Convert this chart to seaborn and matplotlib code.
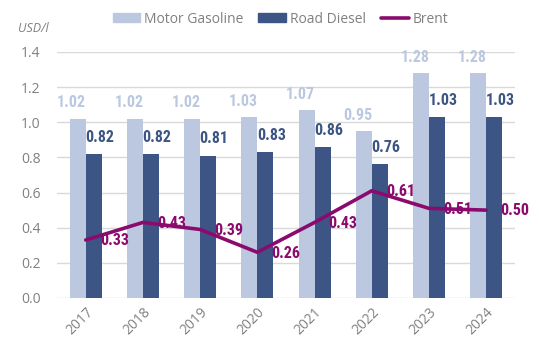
import numpy as np
import pandas as pd
import matplotlib.pyplot as plt
import seaborn as sns
from matplotlib import font_manager
from matplotlib.lines import Line2D
from matplotlib.patches import Patch

#------------ data -----------
years = ['2017', '2018', '2019', '2020', '2021', '2022', '2023', '2024']
gasoline = [1.02, 1.02, 1.02, 1.03, 1.07, 0.95, 1.28, 1.28]
diesel = [0.82, 0.82, 0.81, 0.83, 0.86, 0.76, 1.03, 1.03]
brent = [0.33, 0.43, 0.39, 0.26, 0.43, 0.61, 0.51, 0.50]

c_gas = '#bcc8e0'
c_dsl = '#3d5584'
c_brent = '#8b0a6e'
grey = '#808080'

#------------ fonts: look for a condensed bold face -----------
names = {f.name for f in font_manager.fontManager.ttflist}
lab_font = None
for pref in ['Roboto Condensed', 'Open Sans Condensed', 'Liberation Sans Narrow', 'DejaVu Sans Condensed']:
    if pref in names:
        lab_font = pref
        break
lab_stretch = 'normal'
if lab_font is None:
    lab_font = 'DejaVu Sans'
    if any(f.name == 'DejaVu Sans' and f.stretch == 'condensed' for f in font_manager.fontManager.ttflist):
        lab_stretch = 'condensed'
base_font = 'Open Sans' if 'Open Sans' in names else 'DejaVu Sans'

df = pd.DataFrame({
    'Year': years * 2,
    'Price': gasoline + diesel,
    'Fuel': ['Motor Gasoline'] * len(years) + ['Road Diesel'] * len(years),
})

sns.set_style('white')
plt.rcParams['font.family'] = [base_font, 'DejaVu Sans']
fig = plt.figure(figsize=(5.39, 3.51), dpi=100)
ax = fig.add_axes([0.106, 0.151, 0.849, 0.701])

#------------ bars -----------
sns.barplot(data=df, x='Year', y='Price', hue='Fuel', palette=[c_gas, c_dsl],
            width=0.56, gap=0, linewidth=0, dodge=True, saturation=1, legend=False, ax=ax)

#------------ brent line -----------
x = np.arange(len(years))
sns.lineplot(x=x, y=brent, color=c_brent, linewidth=2.6, ax=ax)

#------------ value labels -----------
lab_kw = dict(ha='center', va='center', fontsize=11.5, fontweight='bold',
              family=[lab_font, 'DejaVu Sans'], fontstretch=lab_stretch)
for i in range(len(years)):
    ax.text(i - 0.245, gasoline[i] + 0.09, f'{gasoline[i]:.2f}', color=c_gas, **lab_kw)
    ax.text(i + 0.245, diesel[i] + 0.095, f'{diesel[i]:.2f}', color=c_dsl, **lab_kw)
    ax.text(i + 0.5, brent[i] - 0.004, f'{brent[i]:.2f}', color=c_brent, **lab_kw)

#------------ axes styling -----------
ax.set_xlim(-0.5, len(years) - 0.5)
ax.set_ylim(0, 1.4)
ax.set_yticks(np.arange(0, 1.41, 0.2))
ax.set_yticklabels([f'{v:.1f}' for v in np.arange(0, 1.41, 0.2)])
ax.yaxis.grid(True, color='#d9d9d9', linewidth=1)
ax.set_axisbelow(True)
for s in ax.spines.values():
    s.set_visible(False)
ax.tick_params(axis='both', length=0, colors=grey, labelsize=10)
ax.tick_params(axis='y', pad=12)
ax.tick_params(axis='x', pad=5)
plt.setp(ax.get_xticklabels(), rotation=45, ha='right', rotation_mode='anchor')
ax.set_xlabel('')
ax.set_ylabel('')

fig.text(0.034, 0.92, 'USD/l', color=grey, fontsize=9, style='italic', va='center')

handles = [Patch(color=c_gas), Patch(color=c_dsl), Line2D([], [], color=c_brent, linewidth=2.6)]
leg = fig.legend(handles, ['Motor Gasoline', 'Road Diesel', 'Brent'], loc='center',
                 bbox_to_anchor=(0.52, 0.945), ncol=3, frameon=False, fontsize=10,
                 handlelength=2.0, handleheight=0.6, handletextpad=0.25, columnspacing=1.1)
for t in leg.get_texts():
    t.set_color(grey)

fig.savefig('out.png', dpi=100)
